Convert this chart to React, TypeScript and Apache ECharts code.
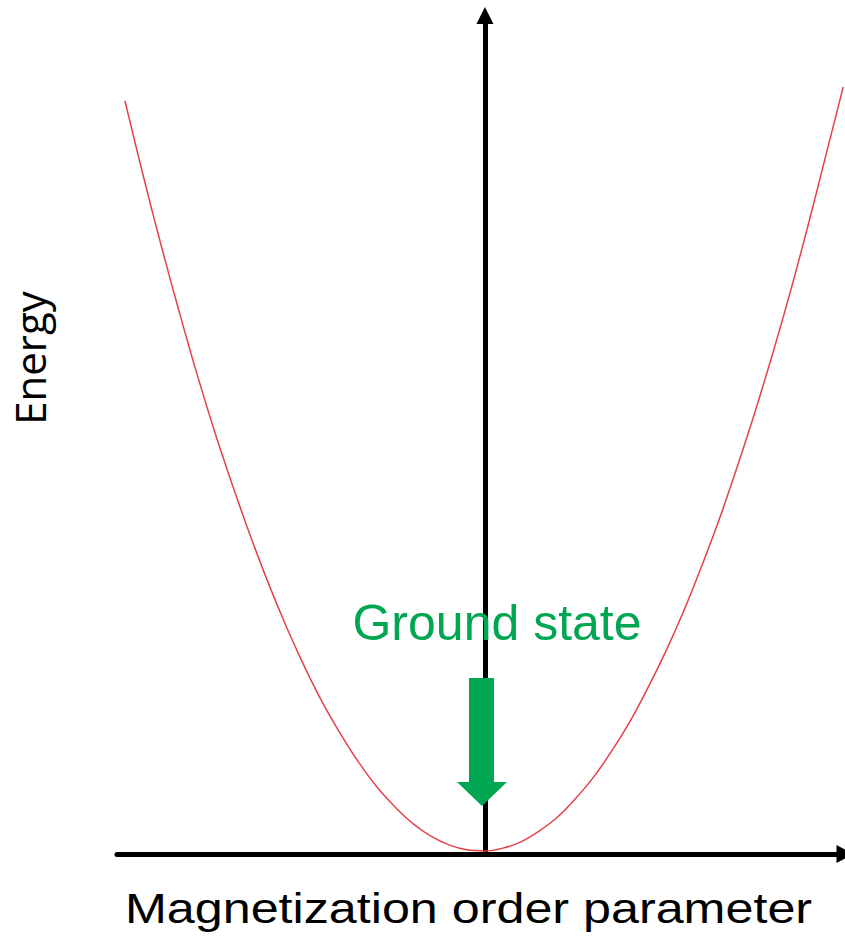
import React, { useEffect, useRef } from "react";
import * as echarts from "echarts";

// Magnetization order parameter (x) and energy (y)
const magnetization = [
  -1.0, -0.95, -0.9, -0.85, -0.8, -0.75, -0.7, -0.65, -0.6, -0.55, -0.5,
  -0.45, -0.4, -0.35, -0.3, -0.25, -0.2, -0.15, -0.1, -0.05, 0.0,
  0.05, 0.1, 0.15, 0.2, 0.25, 0.3, 0.35, 0.4, 0.45, 0.5,
  0.55, 0.6, 0.65, 0.7, 0.75, 0.8, 0.85, 0.9, 0.95, 0.995,
];
const energy = [
  0.99, 0.893, 0.801, 0.714, 0.631, 0.554, 0.483, 0.416, 0.354, 0.297, 0.245,
  0.198, 0.157, 0.12, 0.088, 0.062, 0.04, 0.0235, 0.012, 0.0055, 0.004,
  0.0077, 0.016, 0.03, 0.048, 0.072, 0.1, 0.134, 0.172, 0.216, 0.264,
  0.317, 0.376, 0.439, 0.508, 0.581, 0.659, 0.742, 0.831, 0.924, 1.008,
];

const xAxisTitle = "Magnetization order parameter";
const yAxisTitle = "Energy";
const annotationText = "Ground state";

export default function App() {
  const ref = useRef<HTMLDivElement>(null);

  useEffect(() => {
    if (!ref.current) return;
    const chart = echarts.init(ref.current, undefined, { renderer: "svg" });
    const points = magnetization.map((m, i) => [m, energy[i]]);
    const green = "#00A651";

    chart.setOption({
      animation: false,
      backgroundColor: "#ffffff",
      grid: { left: 117, right: 0, top: 15.5, bottom: 84, containLabel: false },
      xAxis: {
        type: "value",
        min: -1.022,
        max: 1.0,
        axisLine: {
          show: true,
          onZero: true,
          symbol: ["none", "triangle"],
          symbolSize: [18, 17],
          lineStyle: { color: "#000000", width: 5 },
        },
        axisTick: { show: false },
        axisLabel: { show: false },
        splitLine: { show: false },
      },
      yAxis: {
        type: "value",
        min: 0,
        max: 1.102,
        axisLine: {
          show: true,
          onZero: true,
          symbol: ["none", "triangle"],
          symbolSize: [17, 17],
          lineStyle: { color: "#000000", width: 5 },
        },
        axisTick: { show: false },
        axisLabel: { show: false },
        splitLine: { show: false },
      },
      series: [
        {
          type: "line",
          data: points,
          smooth: 0.4,
          showSymbol: false,
          clip: false,
          lineStyle: { color: "#e4414a", width: 1.5 },
          z: 1,
        },
      ],
      graphic: [
        {
          type: "text",
          x: 29,
          y: 358,
          rotation: Math.PI / 2,
          z: 100,
          style: {
            text: yAxisTitle,
            fontFamily: "Open Sans",
            fontSize: 42,
            fill: "#000000",
            textAlign: "center",
            textVerticalAlign: "middle",
          },
        },
        {
          type: "text",
          x: 468.5,
          y: 908,
          scaleX: 1.177,
          z: 100,
          style: {
            text: xAxisTitle,
            fontFamily: "Liberation Sans",
            fontSize: 42.7,
            fill: "#000000",
            textAlign: "center",
            textVerticalAlign: "middle",
          },
        },
        {
          type: "text",
          x: 497,
          y: 623,
          z: 100,
          style: {
            text: annotationText,
            fontFamily: "Liberation Sans",
            fontSize: 50,
            fill: green,
            textAlign: "center",
            textVerticalAlign: "middle",
          },
        },
        {
          type: "rect",
          z: 100,
          shape: { x: 469, y: 678, width: 25, height: 105 },
          style: { fill: green },
        },
        {
          type: "polygon",
          z: 100,
          shape: { points: [[457, 782], [507, 782], [482, 806]] },
          style: { fill: green },
        },
      ],
    });

    return () => chart.dispose();
  }, []);

  return (
    <div
      ref={ref}
      style={{ position: "absolute", left: 0, top: 0, width: 845, height: 938 }}
    />
  );
}
